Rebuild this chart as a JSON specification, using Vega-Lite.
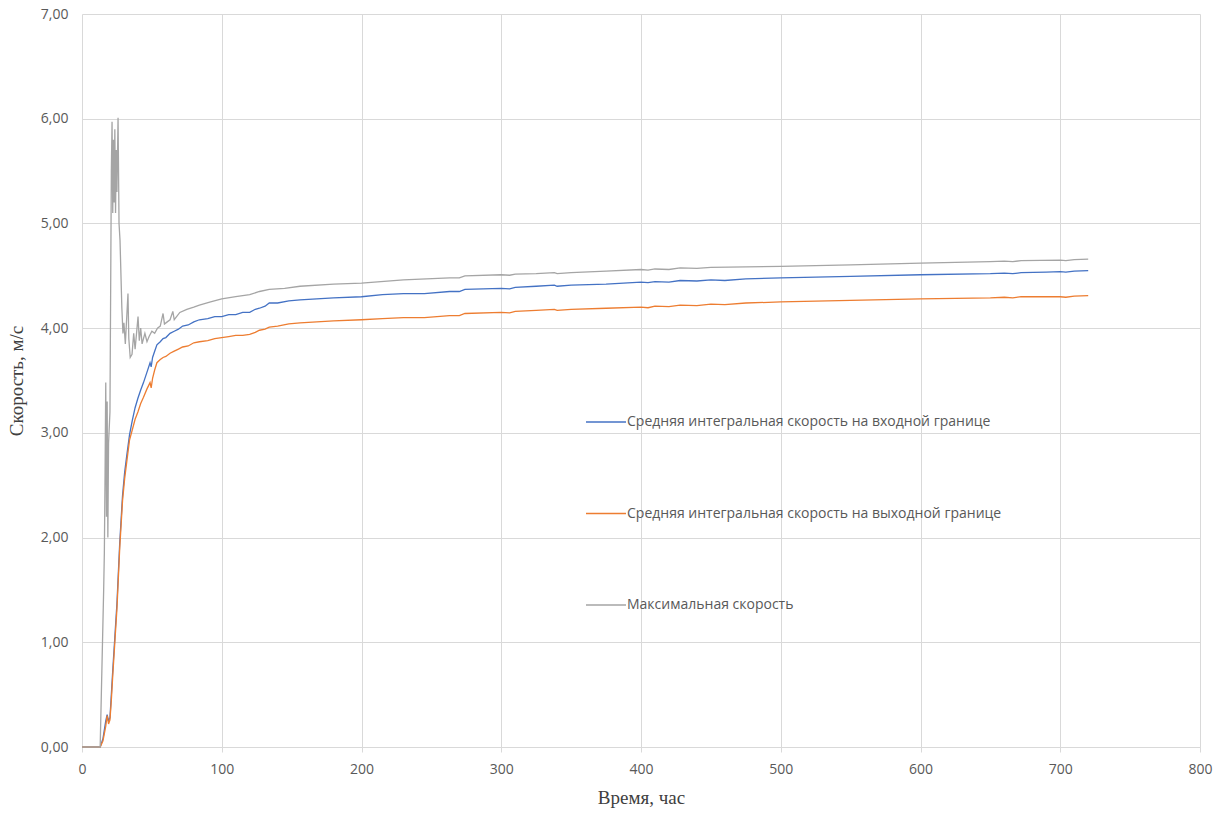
{
  "$schema": "https://vega.github.io/schema/vega-lite/v6.json",
  "width": 1118,
  "height": 733,
  "autosize": {"type": "none"},
  "padding": {"left": 82, "top": 14, "right": 29, "bottom": 69},
  "background": "white",
  "config": {"view": {"stroke": null}},
  "data": {"values": [
    {"s":"in","t":0,"v":0},{"s":"in","t":13,"v":0},{"s":"in","t":15,"v":0.08},{"s":"in","t":17,"v":0.25},{"s":"in","t":18,"v":0.31},{"s":"in","t":19,"v":0.25},{"s":"in","t":20,"v":0.28},{"s":"in","t":21,"v":0.5},{"s":"in","t":22,"v":0.73},{"s":"in","t":23.5,"v":1.05},{"s":"in","t":25,"v":1.37},{"s":"in","t":27,"v":1.95},{"s":"in","t":29,"v":2.4},{"s":"in","t":30.5,"v":2.62},{"s":"in","t":32,"v":2.78},{"s":"in","t":34,"v":2.98},{"s":"in","t":36,"v":3.12},{"s":"in","t":38,"v":3.24},{"s":"in","t":40,"v":3.33},{"s":"in","t":42,"v":3.41},{"s":"in","t":44,"v":3.48},{"s":"in","t":46.5,"v":3.58},{"s":"in","t":48.7,"v":3.67},{"s":"in","t":49.5,"v":3.63},{"s":"in","t":50.5,"v":3.72},{"s":"in","t":52,"v":3.78},{"s":"in","t":53.6,"v":3.84},{"s":"in","t":56,"v":3.87},{"s":"in","t":58,"v":3.9},{"s":"in","t":60,"v":3.91},{"s":"in","t":63,"v":3.95},{"s":"in","t":66,"v":3.97},{"s":"in","t":69,"v":3.99},{"s":"in","t":72,"v":4.02},{"s":"in","t":76,"v":4.03},{"s":"in","t":80,"v":4.06},{"s":"in","t":84,"v":4.08},{"s":"in","t":90,"v":4.09},{"s":"in","t":95,"v":4.11},{"s":"in","t":100,"v":4.11},{"s":"in","t":105,"v":4.13},{"s":"in","t":110,"v":4.13},{"s":"in","t":115,"v":4.15},{"s":"in","t":120,"v":4.15},{"s":"in","t":124,"v":4.18},{"s":"in","t":127,"v":4.19},{"s":"in","t":131,"v":4.21},{"s":"in","t":134,"v":4.24},{"s":"in","t":140,"v":4.24},{"s":"in","t":148,"v":4.26},{"s":"in","t":156,"v":4.27},{"s":"in","t":168,"v":4.28},{"s":"in","t":180,"v":4.29},{"s":"in","t":200,"v":4.3},{"s":"in","t":215,"v":4.32},{"s":"in","t":230,"v":4.33},{"s":"in","t":245,"v":4.33},{"s":"in","t":263,"v":4.35},{"s":"in","t":270,"v":4.35},{"s":"in","t":274,"v":4.37},{"s":"in","t":300,"v":4.38},{"s":"in","t":306,"v":4.375},{"s":"in","t":310,"v":4.39},{"s":"in","t":325,"v":4.4},{"s":"in","t":338,"v":4.41},{"s":"in","t":340,"v":4.4},{"s":"in","t":350,"v":4.41},{"s":"in","t":375,"v":4.42},{"s":"in","t":400,"v":4.44},{"s":"in","t":405,"v":4.435},{"s":"in","t":410,"v":4.445},{"s":"in","t":420,"v":4.44},{"s":"in","t":428,"v":4.455},{"s":"in","t":440,"v":4.45},{"s":"in","t":450,"v":4.46},{"s":"in","t":460,"v":4.455},{"s":"in","t":475,"v":4.47},{"s":"in","t":500,"v":4.48},{"s":"in","t":550,"v":4.495},{"s":"in","t":600,"v":4.51},{"s":"in","t":650,"v":4.52},{"s":"in","t":660,"v":4.525},{"s":"in","t":666,"v":4.52},{"s":"in","t":672,"v":4.53},{"s":"in","t":690,"v":4.535},{"s":"in","t":700,"v":4.54},{"s":"in","t":704,"v":4.535},{"s":"in","t":710,"v":4.545},{"s":"in","t":720,"v":4.55},
    {"s":"out","t":0,"v":0},{"s":"out","t":13,"v":0},{"s":"out","t":15,"v":0.06},{"s":"out","t":17,"v":0.2},{"s":"out","t":18,"v":0.3},{"s":"out","t":19,"v":0.22},{"s":"out","t":20,"v":0.26},{"s":"out","t":21,"v":0.45},{"s":"out","t":22,"v":0.68},{"s":"out","t":23.5,"v":1.0},{"s":"out","t":25,"v":1.32},{"s":"out","t":27,"v":1.9},{"s":"out","t":29,"v":2.35},{"s":"out","t":30.5,"v":2.56},{"s":"out","t":32,"v":2.72},{"s":"out","t":34,"v":2.93},{"s":"out","t":36,"v":3.03},{"s":"out","t":38,"v":3.13},{"s":"out","t":40,"v":3.2},{"s":"out","t":42,"v":3.28},{"s":"out","t":44,"v":3.34},{"s":"out","t":46.5,"v":3.42},{"s":"out","t":48.7,"v":3.48},{"s":"out","t":49.5,"v":3.43},{"s":"out","t":50.5,"v":3.52},{"s":"out","t":52,"v":3.6},{"s":"out","t":53.6,"v":3.67},{"s":"out","t":56,"v":3.7},{"s":"out","t":58,"v":3.72},{"s":"out","t":60,"v":3.73},{"s":"out","t":63,"v":3.76},{"s":"out","t":66,"v":3.78},{"s":"out","t":69,"v":3.8},{"s":"out","t":72,"v":3.82},{"s":"out","t":76,"v":3.83},{"s":"out","t":80,"v":3.86},{"s":"out","t":84,"v":3.87},{"s":"out","t":90,"v":3.88},{"s":"out","t":95,"v":3.9},{"s":"out","t":100,"v":3.91},{"s":"out","t":105,"v":3.92},{"s":"out","t":110,"v":3.93},{"s":"out","t":115,"v":3.93},{"s":"out","t":120,"v":3.94},{"s":"out","t":124,"v":3.96},{"s":"out","t":127,"v":3.98},{"s":"out","t":131,"v":3.99},{"s":"out","t":134,"v":4.01},{"s":"out","t":140,"v":4.02},{"s":"out","t":148,"v":4.04},{"s":"out","t":156,"v":4.05},{"s":"out","t":168,"v":4.06},{"s":"out","t":180,"v":4.07},{"s":"out","t":200,"v":4.08},{"s":"out","t":215,"v":4.09},{"s":"out","t":230,"v":4.1},{"s":"out","t":245,"v":4.1},{"s":"out","t":263,"v":4.12},{"s":"out","t":270,"v":4.12},{"s":"out","t":274,"v":4.14},{"s":"out","t":300,"v":4.15},{"s":"out","t":306,"v":4.145},{"s":"out","t":310,"v":4.16},{"s":"out","t":325,"v":4.17},{"s":"out","t":338,"v":4.18},{"s":"out","t":340,"v":4.17},{"s":"out","t":350,"v":4.18},{"s":"out","t":375,"v":4.19},{"s":"out","t":400,"v":4.2},{"s":"out","t":405,"v":4.195},{"s":"out","t":410,"v":4.21},{"s":"out","t":420,"v":4.205},{"s":"out","t":428,"v":4.22},{"s":"out","t":440,"v":4.215},{"s":"out","t":450,"v":4.23},{"s":"out","t":460,"v":4.225},{"s":"out","t":475,"v":4.24},{"s":"out","t":500,"v":4.25},{"s":"out","t":550,"v":4.265},{"s":"out","t":600,"v":4.28},{"s":"out","t":650,"v":4.29},{"s":"out","t":660,"v":4.295},{"s":"out","t":666,"v":4.29},{"s":"out","t":672,"v":4.3},{"s":"out","t":690,"v":4.3},{"s":"out","t":700,"v":4.3},{"s":"out","t":704,"v":4.295},{"s":"out","t":710,"v":4.305},{"s":"out","t":720,"v":4.31},
    {"s":"max","t":0,"v":0},{"s":"max","t":13,"v":0},{"s":"max","t":15.5,"v":1.5},{"s":"max","t":16,"v":1.86},{"s":"max","t":16.5,"v":2.6},{"s":"max","t":17,"v":3.48},{"s":"max","t":17.5,"v":2.2},{"s":"max","t":18,"v":3.3},{"s":"max","t":18.5,"v":2.0},{"s":"max","t":19,"v":2.9},{"s":"max","t":20,"v":3.2},{"s":"max","t":21,"v":5.5},{"s":"max","t":21.5,"v":5.97},{"s":"max","t":22,"v":5.1},{"s":"max","t":22.5,"v":5.8},{"s":"max","t":23,"v":5.2},{"s":"max","t":23.5,"v":5.9},{"s":"max","t":24,"v":5.1},{"s":"max","t":24.5,"v":5.7},{"s":"max","t":25,"v":5.3},{"s":"max","t":25.8,"v":6.01},{"s":"max","t":26.5,"v":5.0},{"s":"max","t":27.2,"v":4.84},{"s":"max","t":28.5,"v":4.2},{"s":"max","t":29.3,"v":3.95},{"s":"max","t":30,"v":4.05},{"s":"max","t":31,"v":3.85},{"s":"max","t":32.9,"v":4.33},{"s":"max","t":33.5,"v":3.9},{"s":"max","t":34.5,"v":3.72},{"s":"max","t":35.8,"v":3.75},{"s":"max","t":37,"v":3.95},{"s":"max","t":38,"v":3.8},{"s":"max","t":40.1,"v":4.11},{"s":"max","t":41,"v":3.88},{"s":"max","t":42,"v":4.0},{"s":"max","t":43,"v":3.85},{"s":"max","t":45,"v":3.95},{"s":"max","t":46.5,"v":3.87},{"s":"max","t":48,"v":3.92},{"s":"max","t":50,"v":3.97},{"s":"max","t":52,"v":3.95},{"s":"max","t":54,"v":4.0},{"s":"max","t":56,"v":4.02},{"s":"max","t":58,"v":4.14},{"s":"max","t":59,"v":4.04},{"s":"max","t":61,"v":4.06},{"s":"max","t":63,"v":4.08},{"s":"max","t":65,"v":4.16},{"s":"max","t":66,"v":4.08},{"s":"max","t":70,"v":4.15},{"s":"max","t":75,"v":4.18},{"s":"max","t":80,"v":4.2},{"s":"max","t":84,"v":4.22},{"s":"max","t":92,"v":4.25},{"s":"max","t":100,"v":4.28},{"s":"max","t":110,"v":4.3},{"s":"max","t":120,"v":4.32},{"s":"max","t":127,"v":4.35},{"s":"max","t":134,"v":4.37},{"s":"max","t":145,"v":4.38},{"s":"max","t":156,"v":4.4},{"s":"max","t":180,"v":4.42},{"s":"max","t":200,"v":4.43},{"s":"max","t":230,"v":4.46},{"s":"max","t":263,"v":4.48},{"s":"max","t":270,"v":4.48},{"s":"max","t":274,"v":4.5},{"s":"max","t":300,"v":4.51},{"s":"max","t":306,"v":4.505},{"s":"max","t":310,"v":4.515},{"s":"max","t":325,"v":4.52},{"s":"max","t":338,"v":4.53},{"s":"max","t":340,"v":4.52},{"s":"max","t":350,"v":4.53},{"s":"max","t":375,"v":4.545},{"s":"max","t":400,"v":4.56},{"s":"max","t":405,"v":4.555},{"s":"max","t":410,"v":4.565},{"s":"max","t":420,"v":4.56},{"s":"max","t":428,"v":4.575},{"s":"max","t":440,"v":4.57},{"s":"max","t":450,"v":4.58},{"s":"max","t":500,"v":4.59},{"s":"max","t":550,"v":4.605},{"s":"max","t":600,"v":4.62},{"s":"max","t":650,"v":4.635},{"s":"max","t":660,"v":4.64},{"s":"max","t":666,"v":4.635},{"s":"max","t":672,"v":4.645},{"s":"max","t":700,"v":4.65},{"s":"max","t":704,"v":4.645},{"s":"max","t":710,"v":4.655},{"s":"max","t":720,"v":4.66}
  ]},
  "mark": {"type": "line", "strokeWidth": 1.3, "interpolate": "linear"},
  "encoding": {
    "x": {"field": "t", "type": "quantitative",
      "scale": {"domain": [0, 800], "nice": false, "zero": false},
      "axis": {"values": [0,100,200,300,400,500,600,700,800], "title": "Время, час", "grid": true, "gridColor": "#d9d9d9", "domain": true, "domainColor": "#d9d9d9", "ticks": true, "tickColor": "#d9d9d9", "tickSize": 5, "labelFlush": false,
        "labelFont": "Open Sans", "labelFontSize": 14, "labelColor": "#595959", "labelPadding": 10,
        "titleFont": "Liberation Serif", "titleFontSize": 19, "titleFontWeight": "normal", "titleColor": "#404040", "titlePadding": 12}},
    "y": {"field": "v", "type": "quantitative",
      "scale": {"domain": [0, 7], "nice": false},
      "axis": {"values": [0,1,2,3,4,5,6,7], "title": "Скорость, м/с", "grid": true, "gridColor": "#d9d9d9", "domain": false, "ticks": false, "labelFlush": false,
        "labelExpr": "replace(format(datum.value, '.2f'), '.', ',')",
        "labelFont": "Open Sans", "labelFontSize": 14, "labelColor": "#595959", "labelPadding": 14,
        "titleFont": "Liberation Serif", "titleFontSize": 19, "titleFontWeight": "normal", "titleColor": "#404040", "titlePadding": 14}},
    "color": {"field": "s", "type": "nominal",
      "scale": {"domain": ["in", "out", "max"], "range": ["#4472C4", "#ED7D31", "#A5A5A5"]},
      "legend": {"title": null, "orient": "none", "legendX": 503, "legendY": 387, "symbolType": "stroke", "symbolSize": 1600, "symbolStrokeWidth": 1.5,
        "labelFont": "Open Sans", "labelFontSize": 14, "labelColor": "#595959", "labelOffset": 0, "rowPadding": 63.5, "labelLimit": 500,
        "labelExpr": "datum.label == 'in' ? 'Средняя интегральная скорость на входной границе' : datum.label == 'out' ? 'Средняя интегральная скорость на выходной границе' : 'Максимальная скорость'"}},
    "order": {"value": 0}
  }
}
